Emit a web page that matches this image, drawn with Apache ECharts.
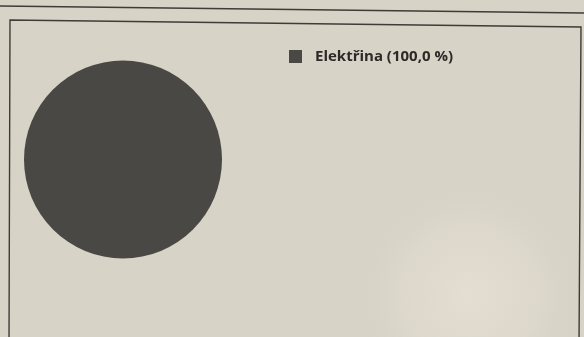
<!DOCTYPE html>
<html>
<head>
<meta charset="utf-8">
<script src="https://cdn.jsdelivr.net/npm/echarts@6/dist/echarts.min.js"></script>
<style>
  html, body { margin: 0; padding: 0; background: #d8d3c7; }
  #chart { width: 584px; height: 337px; }
</style>
</head>
<body>
<div id="chart"></div>
<script>
// Energy sources and their consumption shares
const categories = ['Elektřina'];
const values = [100];
const sliceColors = ['#4a4845'];

const total = values.reduce((a, b) => a + b, 0);
const pctLabel = (v) => (v / total * 100).toFixed(1).replace('.', ',') + ' %';

const chart = echarts.init(document.getElementById('chart'), null, { renderer: 'canvas' });

chart.setOption({
  backgroundColor: '#d8d3c7',
  animation: false,
  color: sliceColors,
  legend: {
    orient: 'vertical',
    left: 289,
    top: 48,
    padding: 0,
    icon: 'rect',
    itemWidth: 13,
    itemHeight: 13,
    itemGap: 8,
    data: categories,
    formatter: (name) => name + ' (' + pctLabel(values[categories.indexOf(name)]) + ')',
    textStyle: {
      fontFamily: 'Open Sans',
      fontWeight: 'bold',
      fontSize: 15,
      lineHeight: 17,
      padding: [0, 0, 0, 8],
      color: '#2b2a28'
    }
  },
  graphic: [
    {
      // soft light patch on the lower right of the page
      type: 'circle',
      silent: true,
      z: -10,
      shape: { cx: 470, cy: 295, r: 115 },
      style: {
        fill: {
          type: 'radial', x: 0.5, y: 0.5, r: 0.5,
          colorStops: [
            { offset: 0, color: 'rgba(230,224,212,0.85)' },
            { offset: 0.6, color: 'rgba(228,222,210,0.45)' },
            { offset: 1, color: 'rgba(216,211,199,0)' }
          ]
        }
      }
    },
    {
      // rule under the heading
      type: 'polyline',
      silent: true,
      shape: { points: [[0, 6], [584, 13]] },
      style: { stroke: '#3d3c39', lineWidth: 1.4, fill: null }
    },
    {
      // frame around the chart
      type: 'polyline',
      silent: true,
      shape: { points: [[9, 345], [10, 20], [581, 27], [579, 345]] },
      style: { stroke: '#3d3c39', lineWidth: 1.4, fill: null }
    }
  ],
  series: [{
    type: 'pie',
    center: [123, 159.5],
    radius: 99,
    startAngle: 90,
    label: { show: false },
    labelLine: { show: false },
    itemStyle: { borderWidth: 0 },
    emphasis: { disabled: true },
    data: categories.map((name, i) => ({ name, value: values[i] }))
  }]
});
</script>
</body>
</html>
